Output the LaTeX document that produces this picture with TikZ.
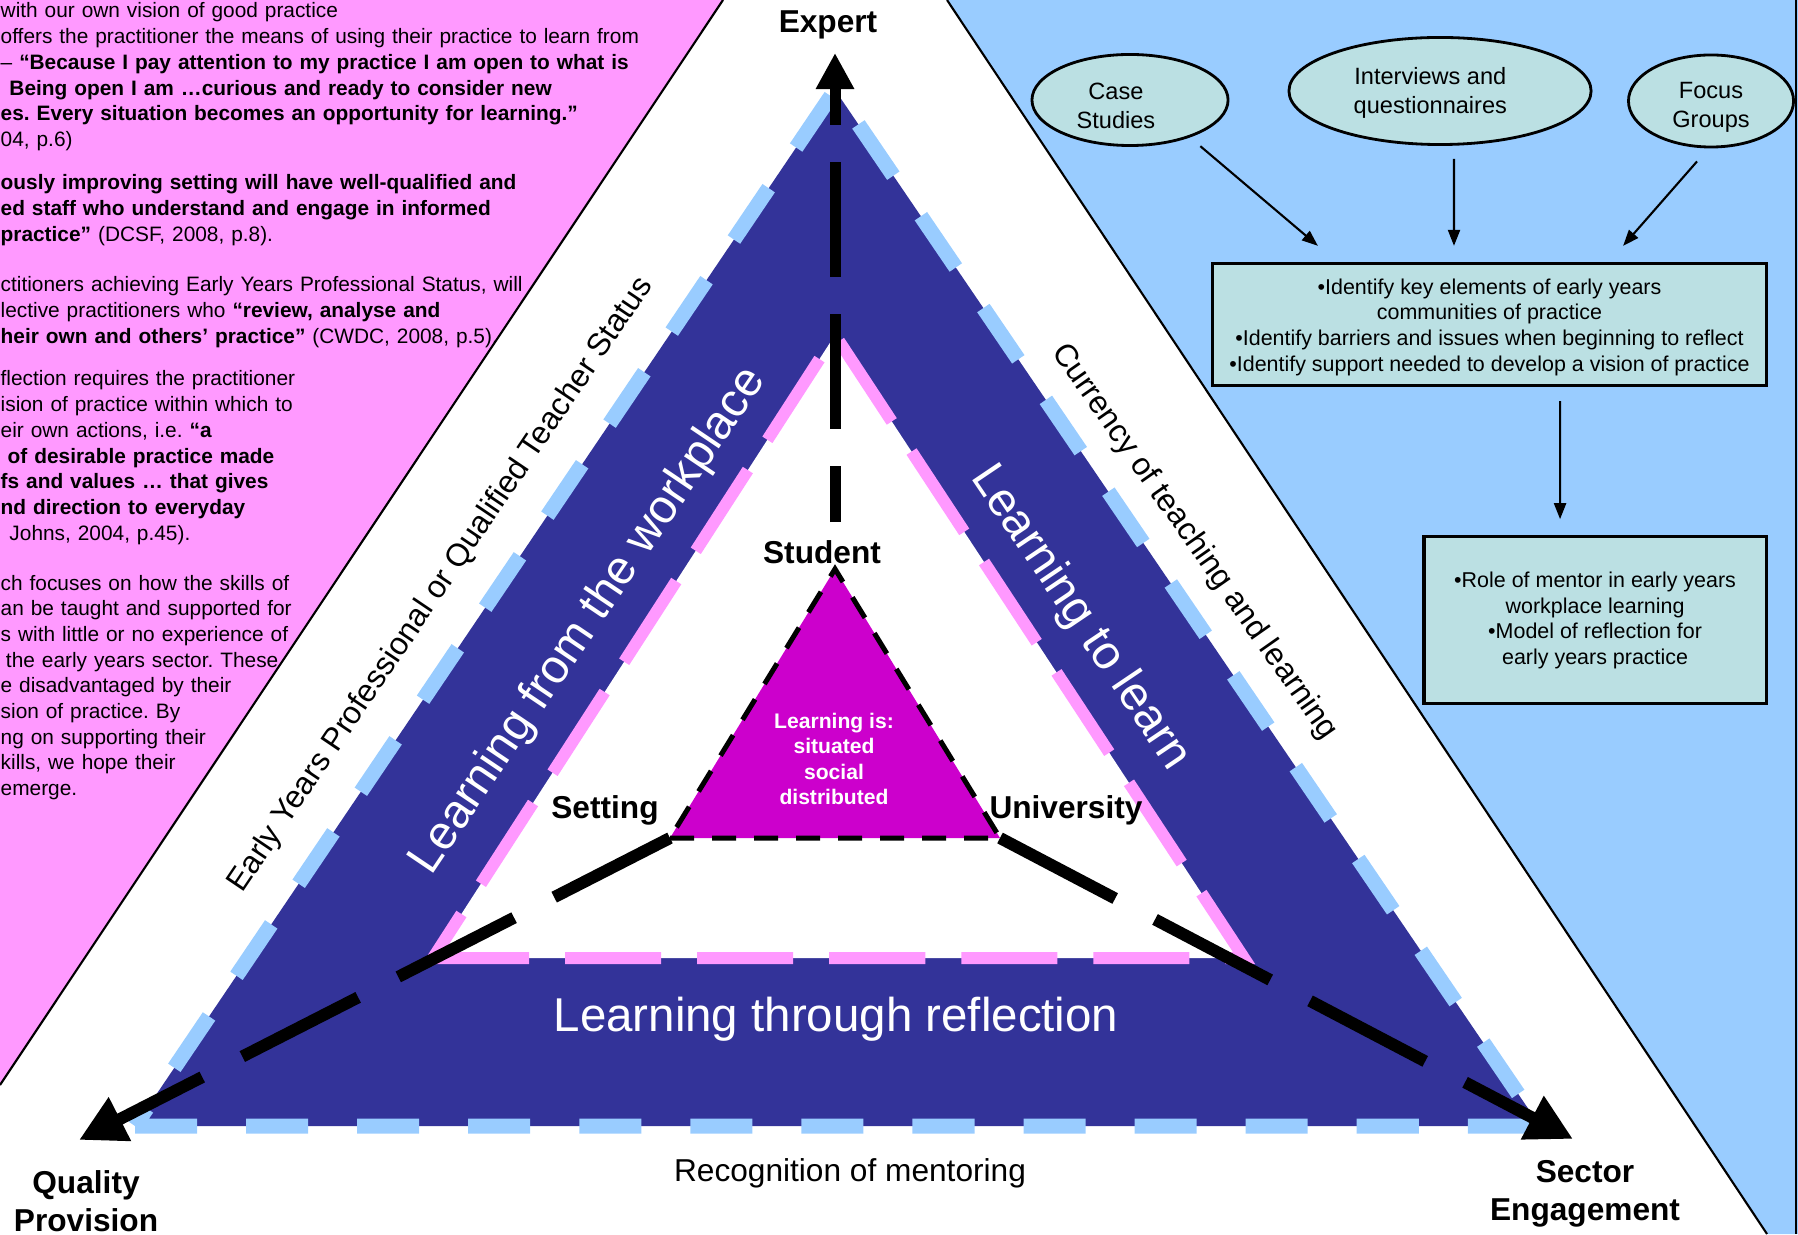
\documentclass[tikz,border=0pt]{standalone}
\usepackage{fontspec}
\setmainfont{Liberation Sans}
\frenchspacing
\usetikzlibrary{arrows.meta, positioning, shapes.geometric}

\definecolor{pagepink}{RGB}{255,153,255}
\definecolor{pageblue}{RGB}{153,204,255}
\definecolor{bandblue}{RGB}{51,51,153}
\definecolor{corepink}{RGB}{204,0,204}
\definecolor{boxteal}{RGB}{187,224,227}

\begin{document}
\begin{tikzpicture}[x=0.01cm, y=-0.01cm,
    quote/.style={font=\fontsize{5.93}{7.3}\selectfont, text width=7cm, align=left, inner sep=0pt, anchor=base west},
    method/.style={ellipse, draw, line width=0.8pt, fill=boxteal, inner sep=0pt, font=\fontsize{6.7}{8.2}\selectfont, align=center},
    aims/.style={draw, line width=0.9pt, fill=boxteal, inner sep=0pt, font=\fontsize{6.1}{7.3}\selectfont, align=center},
    flow/.style={-{Triangle[length=0.16cm, width=0.12cm]}, line width=0.6pt},
    pole/.style={font=\bfseries\fontsize{9}{10.8}\selectfont, align=center, inner sep=0pt},
    side/.style={font=\fontsize{9}{10.8}\selectfont, inner sep=0pt},
    band/.style={font=\fontsize{13.5}{16}\selectfont, text=white, inner sep=0pt},
    journey/.style={line width=0.12cm, dash pattern=on 1.3cm off 0.45cm, -{Triangle[length=0.46cm, width=0.46cm]}},
  ]
  \useasboundingbox (0,0) rectangle (1798,1234);
  \clip (0,0) rectangle (1798,1234);

  \fill[pagepink] (0,0) -- (723,0) -- (0,1085) -- cycle;
  \draw[line width=0.6pt] (723,0) -- (0,1085);
  \fill[pageblue] (947,0) -- (1798,0) -- (1798,1234) -- (1767,1234) -- cycle;
  \draw[line width=0.6pt] (947,0) -- (1767,1234);
  \draw[line width=0.6pt] (1796,0) -- (1796,1234);

  \node[quote] (q1) at (0,18) {with our own vision of good practice\\
    offers the practitioner the means of using their practice to learn from\\
    – \textbf{“Because I pay attention to my practice I am open to what is}\\
    \hspace*{2.5pt}\textbf{Being open I am …curious and ready to consider new}\\
    \textbf{es. Every situation becomes an opportunity for learning.”}\\
    04, p.6)};
  \node[quote] (q2) at (0,190) {\textbf{ously improving setting will have well-qualified and}\\
    \textbf{ed staff who understand and engage in informed}\\
    \textbf{practice”} (DCSF, 2008, p.8).};
  \node[quote] (q3) at (0,292) {ctitioners achieving Early Years Professional Status, will\\
    lective practitioners who \textbf{“review, analyse and}\\
    \textbf{heir own and others’ practice”} (CWDC, 2008, p.5).};
  \node[quote] (q4) at (0,386) {flection requires the practitioner\\
    ision of practice within which to\\
    eir own actions, i.e. \textbf{“a}\\
    \hspace*{2pt}\textbf{of desirable practice made}\\
    \textbf{fs and values … that gives}\\
    \textbf{nd direction to everyday}\\
    \hspace*{2.5pt}Johns, 2004, p.45).};
  \node[quote] (q5) at (0,590) {ch focuses on how the skills of\\
    an be taught and supported for\\
    s with little or no experience of\\
    \hspace*{1.5pt}the early years sector. These\\
    e disadvantaged by their\\
    sion of practice. By\\
    ng on supporting their\\
    kills, we hope their\\
    emerge.};

  \coordinate (apex) at (835,90);
  \coordinate (left) at (135,1126);
  \coordinate (right) at (1540,1126);
  \coordinate (iapex) at (835,335);
  \coordinate (ileft) at (433,958);
  \coordinate (iright) at (1244,958);
  \coordinate (capex) at (835,569);
  \coordinate (cleft) at (670,838);
  \coordinate (cright) at (1000,838);

  \fill[bandblue] (left) -- (right) -- (apex) -- cycle;
  \draw[pageblue, line width=0.15cm, dash pattern=on 0.62cm off 0.49cm] (left) -- (right) -- (apex) -- cycle;
  \fill[white] (ileft) -- (iright) -- (iapex) -- cycle;
  \draw[pagepink, line width=0.12cm, dash pattern=on 0.96cm off 0.36cm] (ileft) -- (iright) -- (iapex) -- cycle;
  \filldraw[fill=corepink, draw=black, line width=0.05cm, dash pattern=on 0.24cm off 0.18cm] (cleft) -- (cright) -- (capex) -- cycle;

  \node[band, rotate=56] (workplace) at (589,621) {Learning from the workplace};
  \node[band, rotate=-56] (tolearn) at (1080,618) {Learning to learn};
  \node[band] (reflection) at (836,1019) {Learning through reflection};
  \node[side, rotate=56] (status) at (441,585) {Early Years Professional or Qualified Teacher Status};
  \node[side, rotate=-55] (currency) at (1194,542) {Currency of teaching and learning};
  \node[side] (mentoring) at (850,1173) {Recognition of mentoring};
  \node[font=\bfseries\fontsize{6}{7.2}\selectfont, text=white, align=center, inner sep=0pt] (learning) at (834,759) {Learning is:\\situated\\social\\distributed};

  \node[pole] (expert) at (828,25) {Expert};
  \node[pole] (student) at (822,552) {Student};
  \node[pole] (setting) at (605,810) {Setting};
  \node[pole] (university) at (1066,810) {University};
  \node[pole] (quality) at (86,1201) {Quality\\Provision};
  \node[pole] (sector) at (1585,1194) {Sector\\Engagement};

  \coordinate (expertTip) at (835,53);
  \coordinate (studentTop) at (835,522);
  \coordinate (qualityTip) at (79,1140);
  \coordinate (sectorTip) at (1573,1139);
  \draw[journey, line width=0.11cm, dash pattern=on 1.15cm off 0.37cm, dash phase=0.59cm, -{Triangle[length=0.36cm, width=0.36cm]}] (studentTop) -- (expertTip);
  \draw[journey] (cleft) -- (qualityTip);
  \draw[journey] (cright) -- (sectorTip);

  \node[method, minimum width=1.96cm, minimum height=0.91cm] (case) at (1130,100) {\rule{0pt}{8.2pt}Case\hspace*{8pt}\\Studies\hspace*{8pt}};
  \node[method, minimum width=3.02cm, minimum height=1.07cm] (survey) at (1440,91) {\rule{0pt}{6pt}Interviews and\hspace*{5.5pt}\\questionnaires\hspace*{5.5pt}};
  \node[method, minimum width=1.65cm, minimum height=0.92cm] (focus) at (1711,101) {\rule{0pt}{8.2pt}Focus\\Groups};
  \node[aims, minimum width=5.53cm, minimum height=1.22cm] (aims1) at (1489.5,324.5) {\rule{0pt}{6pt}•Identify key elements of early years\\communities of practice\\•Identify barriers and issues when beginning to reflect\\•Identify support needed to develop a vision of practice};
  \node[aims, minimum width=3.42cm, minimum height=1.67cm, below=1.48cm of aims1.south east, anchor=north east] (aims2) {•Role of mentor in early years\\workplace learning\\•Model of reflection for\\early years practice};

  \draw[flow] ([yshift=-0.13cm]case.south east) -- ([xshift=-1.715cm, yshift=0.16cm]aims1.north);
  \draw[flow] ([xshift=0.14cm, yshift=-0.13cm]survey.south) -- ([xshift=-0.355cm, yshift=0.16cm]aims1.north);
  \draw[flow] ([xshift=-0.14cm, yshift=-0.13cm]focus.south) -- ([xshift=1.335cm, yshift=0.16cm]aims1.north);
  \draw[flow] ([xshift=0.705cm, yshift=-0.14cm]aims1.south) -- ([xshift=-0.35cm, yshift=0.16cm]aims2.north);
\end{tikzpicture}
\end{document}
